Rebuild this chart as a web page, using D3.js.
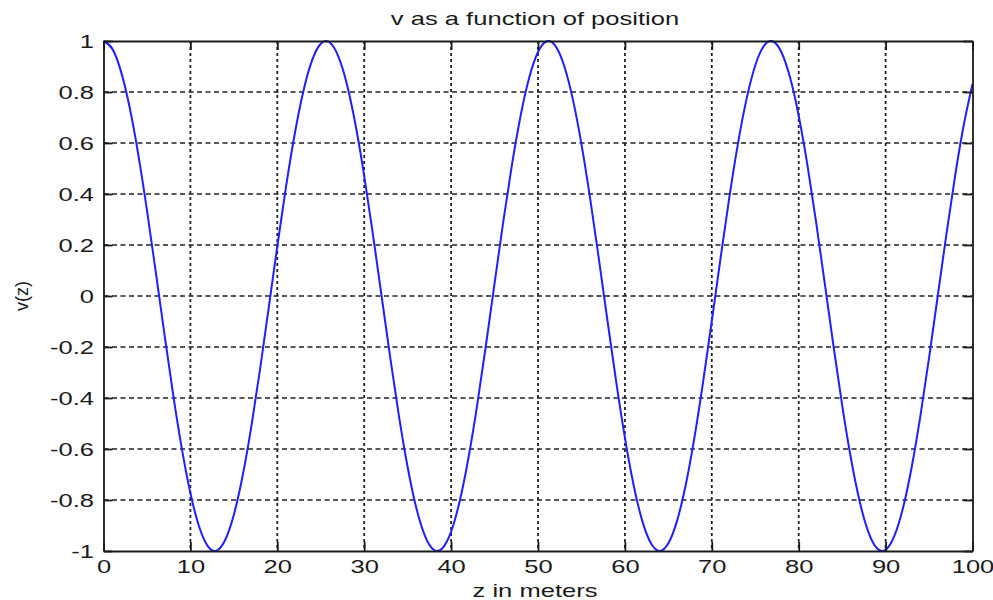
<!DOCTYPE html>
<html>
<head>
<meta charset="utf-8">
<script src="https://cdn.jsdelivr.net/npm/d3@7"></script>
<style>
  html, body { margin: 0; padding: 0; background: #ffffff; }
  svg { display: block; }
  text { font-family: "Liberation Sans", Arial, Helvetica, sans-serif; fill: #1a1a1a; }
</style>
</head>
<body>
<svg id="chart" width="993" height="600"></svg>
<script>
// Sampled voltage along the line, v(z), at 1 m steps
const zValues = [
  0, 1, 2, 3, 4, 5, 6, 7, 8, 9, 10, 11, 12, 13, 14, 15, 16, 17, 18, 19,
  20, 21, 22, 23, 24, 25, 26, 27, 28, 29, 30, 31, 32, 33, 34, 35, 36, 37, 38, 39,
  40, 41, 42, 43, 44, 45, 46, 47, 48, 49, 50, 51, 52, 53, 54, 55, 56, 57, 58, 59,
  60, 61, 62, 63, 64, 65, 66, 67, 68, 69, 70, 71, 72, 73, 74, 75, 76, 77, 78, 79,
  80, 81, 82, 83, 84, 85, 86, 87, 88, 89, 90, 91, 92, 93, 94, 95, 96, 97, 98, 99, 100
];
const vValues = [
  1.0000, 0.9700, 0.8819, 0.7410, 0.5556, 0.3369, 0.0980, -0.1467, -0.3827, -0.5957,
  -0.7730, -0.9040, -0.9808, -0.9988, -0.9569, -0.8577, -0.7071, -0.5141, -0.2903, -0.0491,
  0.1951, 0.4276, 0.6344, 0.8032, 0.9239, 0.9892, 0.9952, 0.9415, 0.8315, 0.6716,
  0.4714, 0.2430, 0.0000, -0.2430, -0.4714, -0.6716, -0.8315, -0.9415, -0.9952, -0.9892,
  -0.9239, -0.8032, -0.6344, -0.4276, -0.1951, 0.0491, 0.2903, 0.5141, 0.7071, 0.8577,
  0.9569, 0.9988, 0.9808, 0.9040, 0.7730, 0.5957, 0.3827, 0.1467, -0.0980, -0.3369,
  -0.5556, -0.7410, -0.8819, -0.9700, -1.0000, -0.9700, -0.8819, -0.7410, -0.5556, -0.3369,
  -0.0980, 0.1467, 0.3827, 0.5957, 0.7730, 0.9040, 0.9808, 0.9988, 0.9569, 0.8577,
  0.7071, 0.5141, 0.2903, 0.0491, -0.1951, -0.4276, -0.6344, -0.8032, -0.9239, -0.9892,
  -0.9952, -0.9415, -0.8315, -0.6716, -0.4714, -0.2430, 0.0000, 0.2430, 0.4714, 0.6716,
  0.8315
];

// Axis ticks and their labels
const xTicks = [0, 10, 20, 30, 40, 50, 60, 70, 80, 90, 100];
const xTickLabels = ["0", "10", "20", "30", "40", "50", "60", "70", "80", "90", "100"];
const yTicks = [-1, -0.8, -0.6, -0.4, -0.2, 0, 0.2, 0.4, 0.6, 0.8, 1];
const yTickLabels = ["-1", "-0.8", "-0.6", "-0.4", "-0.2", "0", "0.2", "0.4", "0.6", "0.8", "1"];

const titleText = "v as a function of position";
const xLabelText = "z in meters";
const yLabelText = "v(z)";

// Layout
const margin = { left: 103.5, right: 20.5, top: 41, bottom: 49 };
const W = 993, H = 600;
const plotW = W - margin.left - margin.right;
const plotH = H - margin.top - margin.bottom;
const fontSize = 18;
const stretch = 1.42;   // wide glyphs
const tickLen = 9;

const svg = d3.select("#chart");
const g = svg.append("g").attr("transform", `translate(${margin.left},${margin.top})`);

const x = d3.scaleLinear().domain([0, 100]).range([0, plotW]);
const y = d3.scaleLinear().domain([-1, 1]).range([plotH, 0]);

const ink = "#1a1a1a";

// Grid: dashed horizontals, dotted verticals
g.append("g").selectAll("line").data(yTicks.slice(1, -1)).join("line")
  .attr("x1", 0).attr("x2", plotW)
  .attr("y1", d => y(d)).attr("y2", d => y(d))
  .attr("stroke", "#222").attr("stroke-width", 1.6)
  .attr("stroke-dasharray", "5,3.5");

g.append("g").selectAll("line").data(xTicks.slice(1, -1)).join("line")
  .attr("x1", d => x(d)).attr("x2", d => x(d))
  .attr("y1", 0).attr("y2", plotH)
  .attr("stroke", "#222").attr("stroke-width", 1.8)
  .attr("stroke-dasharray", "3,3");

// The curve
const line = d3.line()
  .x((d, i) => x(zValues[i]))
  .y(d => y(d))
  .curve(d3.curveNatural);

g.append("path")
  .datum(vValues)
  .attr("d", line)
  .attr("fill", "none")
  .attr("stroke", "#1f1fff")
  .attr("stroke-width", 2)
  .attr("stroke-linejoin", "round");

// Axes with inward ticks on all four sides
const xAxis = d3.axisBottom(x).tickValues(xTicks)
  .tickFormat((d, i) => xTickLabels[i]).tickSizeInner(-tickLen).tickSizeOuter(0);
const yAxis = d3.axisLeft(y).tickValues(yTicks)
  .tickFormat((d, i) => yTickLabels[i]).tickSizeInner(-tickLen).tickSizeOuter(0);
const xAxisTop = d3.axisTop(x).tickValues(xTicks).tickFormat("").tickSizeInner(-tickLen).tickSizeOuter(0);
const yAxisRight = d3.axisRight(y).tickValues(yTicks).tickFormat("").tickSizeInner(-tickLen).tickSizeOuter(0);

const gx = g.append("g").attr("transform", `translate(0,${plotH})`).call(xAxis);
const gy = g.append("g").call(yAxis);
const gxt = g.append("g").call(xAxisTop);
const gyr = g.append("g").attr("transform", `translate(${plotW},0)`).call(yAxisRight);

[gx, gy, gxt, gyr].forEach(a => {
  a.select(".domain").attr("stroke", ink).attr("stroke-width", 1.8);
  a.selectAll(".tick line").attr("stroke", ink).attr("stroke-width", 1.8);
});

gx.selectAll(".tick text")
  .attr("font-size", fontSize).attr("fill", ink)
  .attr("y", 22).attr("dy", 0)
  .attr("transform", `scale(${stretch},1)`);

gy.selectAll(".tick text")
  .attr("font-size", fontSize).attr("fill", ink)
  .attr("x", -9.5 / stretch).attr("dy", "0.36em")
  .attr("transform", `scale(${stretch},1)`);

gxt.selectAll(".tick text").remove();
gyr.selectAll(".tick text").remove();

// Title and axis labels
const cx = margin.left + plotW / 2 - 3;
svg.append("g").attr("transform", `translate(${cx},25)`)
  .append("text").attr("text-anchor", "middle").attr("font-size", fontSize)
  .attr("transform", `scale(${stretch},1)`).text(titleText);

svg.append("g").attr("transform", `translate(${cx},597)`)
  .append("text").attr("text-anchor", "middle").attr("font-size", fontSize)
  .attr("transform", `scale(${stretch},1)`).text(xLabelText);

svg.append("text")
  .attr("transform", `translate(28,${margin.top + plotH / 2}) rotate(-90)`)
  .attr("text-anchor", "middle").attr("font-size", fontSize)
  .text(yLabelText);
</script>
</body>
</html>
